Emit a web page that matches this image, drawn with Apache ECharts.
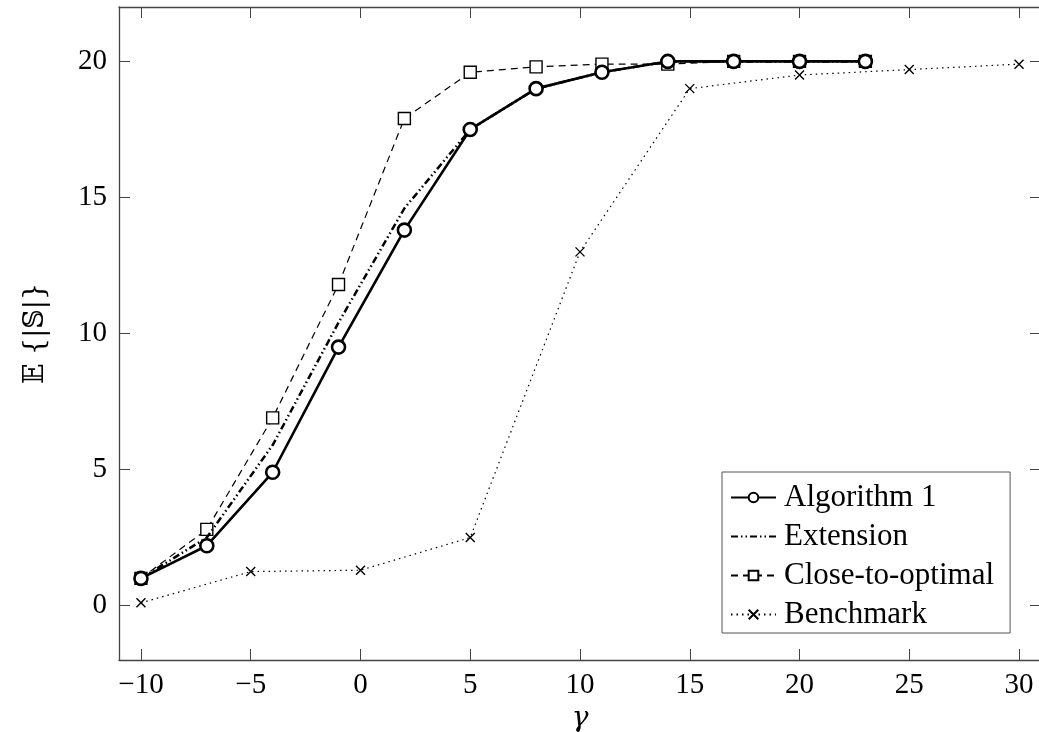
<!DOCTYPE html>
<html>
<head>
<meta charset="utf-8">
<script src="https://cdn.jsdelivr.net/npm/echarts@6/dist/echarts.min.js"></script>
<style>
  html, body { margin: 0; padding: 0; background: #fff; }
  #chart { width: 1039px; height: 732px; }
</style>
</head>
<body>
<div id="chart"></div>
<script>
// data
var gammaAlg = [-10, -7, -4, -1, 2, 5, 8, 11, 14, 17, 20, 23];
var algorithm1 = [1.0, 2.2, 4.9, 9.5, 13.8, 17.5, 19.0, 19.6, 20.0, 20.0, 20.0, 20.0];
var extension = [1.0, 2.5, 5.9, 10.4, 14.6, 17.5, 19.0, 19.6, 20.0, 20.0, 20.0, 20.0];
var closeToOptimal = [1.0, 2.8, 6.9, 11.8, 17.9, 19.6, 19.8, 19.9, 19.9, 20.0, 20.0, 20.0];
var gammaBench = [-10, -5, 0, 5, 10, 15, 20, 25, 30];
var benchmark = [0.1, 1.25, 1.3, 2.5, 13.0, 19.0, 19.5, 19.7, 19.9];
var xTicks = [-10, -5, 0, 5, 10, 15, 20, 25, 30];
var yTicks = [0, 5, 10, 15, 20];

function pairs(xs, ys) {
	return xs.map(function (x, i) { return [x, ys[i]]; });
}

var myChart = echarts.init(document.getElementById("chart"));

var serif = "Liberation Serif";
var axisColor = "#444";
var crossPath = "path://M0,0 L10,10 M10,0 L0,10";

var option = {
	animation: false,
	backgroundColor: "#fff",
	grid: { left: 119, top: 7, width: 922, height: 653, outerBoundsMode: "none", containLabel: false },
	legend: {
		orient: "vertical",
		left: 722,
		top: 472,
		backgroundColor: "#fff",
		borderColor: "#555",
		borderWidth: 1,
		padding: [10, 16, 3, 8],
		itemGap: 8,
		itemWidth: 45,
		itemHeight: 12,
		textStyle: { fontFamily: serif, fontSize: 31, color: "#000", padding: [0, 0, 0, 3] },
		data: [
			"Algorithm 1",
			{ name: "Extension", itemStyle: { opacity: 0 } },
			"Close-to-optimal",
			"Benchmark"
		]
	},
	xAxis: [
		{
			type: "value",
			min: -11,
			max: 31,
			name: "γ",
			nameLocation: "middle",
			nameGap: 42,
			nameTextStyle: { fontFamily: "DejaVu Serif", fontStyle: "italic", fontSize: 28, color: "#000" },
			axisLine: { onZero: false, lineStyle: { color: axisColor, width: 1.3 } },
			axisTick: { inside: true, length: 11, customValues: xTicks, lineStyle: { color: axisColor } },
			axisLabel: { customValues: xTicks, fontFamily: serif, fontSize: 29, color: "#000", margin: 11,
				formatter: function (v) { return v < 0 ? "\u2212" + Math.abs(v) : v; } },
			splitLine: { show: false }
		},
		{
			type: "value",
			position: "top",
			min: -11,
			max: 31,
			axisLine: { onZero: false, lineStyle: { color: axisColor, width: 1.3 } },
			axisTick: { inside: true, length: 11, customValues: xTicks, lineStyle: { color: axisColor } },
			axisLabel: { show: false },
			splitLine: { show: false }
		}
	],
	yAxis: [
		{
			type: "value",
			min: -2,
			max: 22,
			name: "𝔼 {|𝕊|}",
			nameLocation: "middle",
			nameRotate: 90,
			nameGap: 70,
			nameTextStyle: { fontFamily: "DejaVu Serif", fontSize: 27, color: "#000" },
			axisLine: { onZero: false, lineStyle: { color: axisColor, width: 1.3 } },
			axisTick: { inside: true, length: 11, customValues: yTicks, lineStyle: { color: axisColor } },
			axisLabel: { customValues: yTicks, fontFamily: serif, fontSize: 29, color: "#000", margin: 12 },
			splitLine: { show: false }
		},
		{
			type: "value",
			position: "right",
			min: -2,
			max: 22,
			axisLine: { onZero: false, lineStyle: { color: axisColor, width: 1.3 } },
			axisTick: { inside: true, length: 11, customValues: yTicks, lineStyle: { color: axisColor } },
			axisLabel: { show: false },
			splitLine: { show: false }
		}
	],
	series: [
		{
			name: "Benchmark",
			type: "line",
			data: pairs(gammaBench, benchmark),
			symbol: crossPath,
			symbolSize: 9,
			z: 2,
			lineStyle: { color: "#000", width: 1.2, type: [1.5, 4] },
			itemStyle: { color: "#000", borderColor: "#000", borderWidth: 1.4 }
		},
		{
			name: "Close-to-optimal",
			type: "line",
			data: pairs(gammaAlg, closeToOptimal),
			symbol: "rect",
			symbolSize: 12,
			z: 3,
			lineStyle: { color: "#000", width: 1.2, type: [7, 5] },
			itemStyle: { color: "#fff", borderColor: "#000", borderWidth: 1.4 }
		},
		{
			name: "Extension",
			type: "line",
			data: pairs(gammaAlg, extension),
			symbol: "none",
			z: 4,
			lineStyle: { color: "#000", width: 2.5, type: [7, 3, 1.5, 3, 1.5, 3] },
			itemStyle: { color: "#000" }
		},
		{
			name: "Algorithm 1",
			type: "line",
			data: pairs(gammaAlg, algorithm1),
			symbol: "circle",
			symbolSize: 13,
			z: 5,
			lineStyle: { color: "#000", width: 2.6 },
			itemStyle: { color: "#fff", borderColor: "#000", borderWidth: 2.6 }
		}
	]
};
myChart.setOption(option);
</script>
</body>
</html>
